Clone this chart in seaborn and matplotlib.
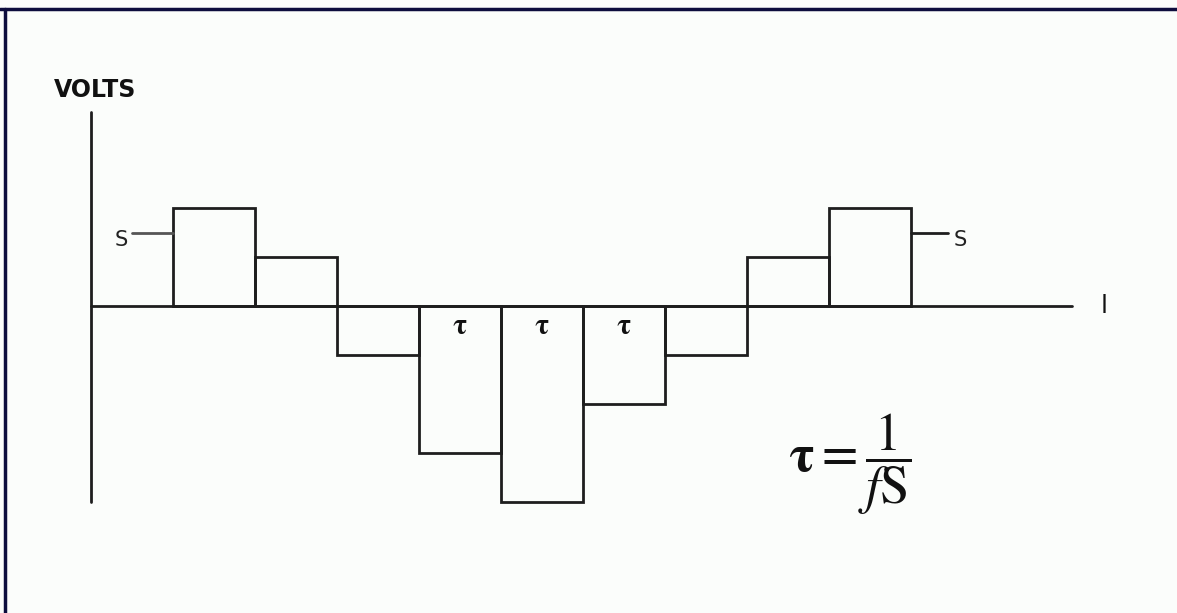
import matplotlib
matplotlib.use('Agg')
import matplotlib.pyplot as plt
import matplotlib.lines as mlines
import numpy as np
import pandas as pd
import seaborn as sns

# sample instants (in units of tau) and the held voltage of each sample
sample_start = [1, 2, 3, 4, 5, 6, 7, 8, 9]
sample_volts = [2, 1, -1, -3, -4, -2, -1, 1, 2]
tau_labels = [4, 5, 6]   # samples carrying a "τ" mark
s_level = 1.5            # level of the "S" leader lines

sns.set_theme(style='white')
plt.rcParams['font.family'] = ['DejaVu Sans']

fig = plt.figure(figsize=(11.77, 6.13), dpi=100)
fig.patch.set_facecolor('#fbfdfb')
ax = fig.add_axes([0, 0, 1, 1])
ax.set_facecolor('#fbfdfb')

df = pd.DataFrame({'t': [s + 0.5 for s in sample_start], 'v': sample_volts})
sns.barplot(data=df, x='t', y='v', native_scale=True, width=1.0, fill=False,
            color='#1e1e1e', linewidth=2, errorbar=None, ax=ax)

# axes drawn as in the sketch
ax.plot([0, 0], [-4, 3.95], color='#1e1e1e', lw=2)
ax.plot([0, 11.96], [0, 0], color='#1e1e1e', lw=2)

# "S" leaders
ax.plot([0.5, 1], [s_level, s_level], color='#555555', lw=2)
ax.plot([10, 10.45], [s_level, s_level], color='#1e1e1e', lw=2)
ax.text(0.37, s_level - 0.15, 'S', fontsize=15, ha='center', va='center',
        color='#222222')
ax.text(10.6, s_level - 0.15, 'S', fontsize=15, ha='center', va='center',
        color='#222222')

for s in tau_labels:
    ax.text(s + 0.5, -0.4, r'$\mathbf{\tau}$', fontsize=21, ha='center',
            va='center', color='#111111', math_fontfamily='stix')

ax.text(12.35, 0, 'l', fontsize=18, ha='center', va='center', color='#111111')
ax.text(-0.45, 4.4, 'VOLTS', fontsize=17, ha='left', va='center',
        color='#111111', fontweight='bold')

# tau = 1/fs
ax.text(9.25, -3.22, r'$\mathbf{\tau} = \dfrac{1}{f\mathrm{S}}$', fontsize=38,
        ha='center', va='center', color='#111111', math_fontfamily='stix')

ax.set_xlim(-91 / 82, (1177 - 91) / 82)
ax.set_ylim(-(613 - 306) / 49, 306 / 49)
ax.axis('off')

# frame: navy line on top and left only
fig.add_artist(mlines.Line2D([0, 1], [1 - 9 / 613, 1 - 9 / 613],
                             transform=fig.transFigure, color='#0d0d3d', lw=2.5))
fig.add_artist(mlines.Line2D([5 / 1177, 5 / 1177], [0, 1 - 9 / 613],
                             transform=fig.transFigure, color='#0d0d3d', lw=2.5))

fig.savefig('out.png', dpi=100)
